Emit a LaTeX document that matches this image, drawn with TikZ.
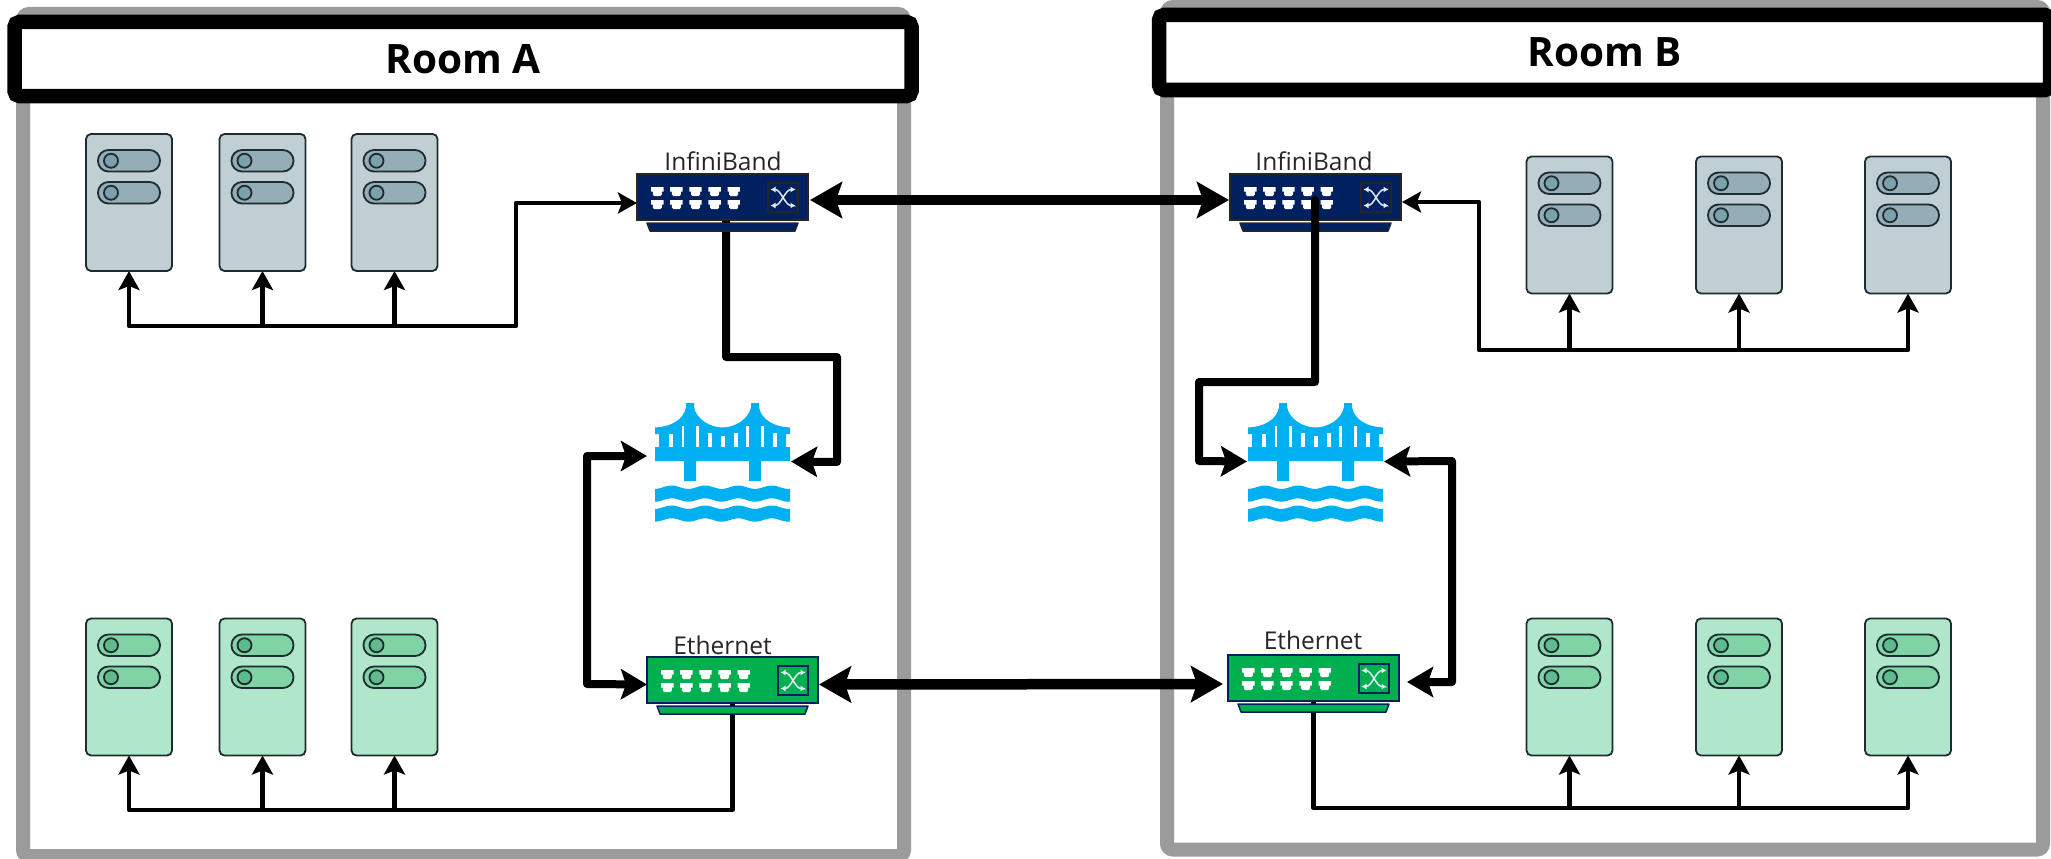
\documentclass[tikz,border=0pt]{standalone}
\usepackage{fontspec}
\setmainfont{Open Sans}
\usetikzlibrary{arrows.meta,calc}
\pgfdeclarelayer{bg}
\pgfdeclarelayer{back}
\pgfsetlayers{bg,back,main}
\definecolor{framegray}{HTML}{9B9B9B}
\definecolor{ibblue}{HTML}{002060}
\definecolor{ethgreen}{HTML}{00B050}
\definecolor{bridgeblue}{HTML}{00B0F0}
\definecolor{srvedge}{HTML}{1E2B30}
\definecolor{graybody}{HTML}{BFCFD4}
\definecolor{graypill}{HTML}{94ADB6}
\definecolor{grayknob}{HTML}{7BA2AC}
\definecolor{greenbody}{HTML}{B0E6CA}
\definecolor{greenpill}{HTML}{7FD3A4}
\definecolor{greenknob}{HTML}{5FBB8C}
\tikzset{
  thintip/.tip={Stealth[length=19pt,width=21pt,inset=4pt]},
  midtip/.tip={Stealth[length=26pt,width=30pt,inset=5pt]},
  bigtip/.tip={Stealth[length=32pt,width=36pt,inset=6pt]},
  thinlink/.style={line width=4.2pt,line join=round,draw=black},
  midlink/.style={line width=8pt,line join=round,draw=black},
  biglink/.style={line width=10.5pt,line join=round,draw=black},
  roomframe/.style={draw=framegray,line width=14pt,rounded corners=6pt,inner sep=0pt,outer sep=0pt},
  roomhead/.style={draw=black,fill=white,line width=14.5pt,rounded corners=5pt,inner sep=0pt,outer sep=0pt,font=\bfseries\fontsize{40.5}{40.5}\selectfont},
  swlabel/.style={anchor=base,inner sep=0pt,text=black!85,font=\fontsize{24.5}{24.5}\selectfont},
  srvbody/.style={rectangle,rounded corners=5pt,line width=1.8pt,draw=srvedge,minimum width=86pt,minimum height=137pt,inner sep=0pt,outer sep=0pt},
  srvpart/.style={line width=1.8pt,draw=srvedge},
  swbody/.style={rectangle,line width=1.5pt,minimum width=171pt,minimum height=46pt,inner sep=0pt,outer sep=0pt},
  ghost/.style={rectangle,minimum width=135pt,minimum height=117pt,inner sep=0pt,outer sep=0pt}
}
% server: name, centre x, centre y, body, pill, knob
\newcommand{\srvbox}[6]{%
  \node[srvbody,fill=#4] (#1) at (#2,#3) {};
  \begin{scope}[shift={(#2-43,#3-68.5)}]
    \foreach \ty in {16,48} {
      \draw[srvpart,fill=#5,rounded corners=10.5pt] (12,\ty) rectangle (74,\ty+21.5);
      \draw[srvpart,fill=#6] (25,\ty+10.75) circle (7pt);
    }
  \end{scope}
}
% switch: name, left x, top y, fill, edge
\newcommand{\swbox}[5]{%
  \node[swbody,fill=#4,draw=#5] (#1) at (#2+85.5,#3+23) {};
  \begin{scope}[shift={(#2,#3)}]
    \draw[line width=1.5pt,draw=#5,fill=#4,line join=round] (10,49) -- (161,49) -- (158,57) -- (13,57) -- cycle;
    \foreach \px in {0,...,4} \foreach \py in {17.5,30.5} {
      \fill[white,shift={(20.3+\px*19.1,\py)}] (-6.2,-4.5) -- (6.2,-4.5) -- (6.2,0) -- (4.5,0) -- (4.5,3) -- (3,4.7) -- (-3,4.7) -- (-4.5,3) -- (-4.5,0) -- (-6.2,0) -- cycle;
    }
    \draw[line width=1.5pt,draw=#5,fill=#4] (131,9) rectangle (161,38);
    \begin{scope}[shift={(146,23.5)}]
      \draw[white!90!ibblue,line width=1.5pt,{Latex[length=5pt,width=6pt]}-{Latex[length=5pt,width=6pt]}] (-12.5,-8) -- (-8,-8) .. controls (-2,-8) and (2,8) .. (8,8) -- (12.5,8);
      \draw[white!90!ibblue,line width=1.5pt,{Latex[length=5pt,width=6pt]}-{Latex[length=5pt,width=6pt]}] (-12.5,8) -- (-8,8) .. controls (-2,8) and (2,-8) .. (8,-8) -- (12.5,-8);
    \end{scope}
  \end{scope}
}
% bridge: name, left x, top y
\newcommand{\brgicon}[3]{%
  \node[ghost] (#1) at (#2+67.5,#3+58.5) {};
  \begin{scope}[shift={(#2,#3)}]
    \fill[bridgeblue] (0,24.5) .. controls (15,24) and (29,17) .. (31,4) -- (31,0) -- (39,0) -- (39,4)
      .. controls (41,16) and (55,24.5) .. (67.5,24.5) .. controls (80,24.5) and (94,16) .. (96,4)
      -- (96,0) -- (104,0) -- (104,4) .. controls (106,17) and (120,24) .. (135,24.5)
      -- (135,31) -- (131,31) -- (131,44) -- (135,44) -- (135,58) -- (106,58) -- (106,78) -- (94,78) -- (94,58)
      -- (41,58) -- (41,78) -- (29,78) -- (29,58) -- (0,58) -- (0,44) -- (4,44) -- (4,31) -- (0,31) -- cycle;
    \foreach \sa/\sb/\st in {14/17.5/31,27.3/28.7/23,41.3/43.7/23,53/56.5/30,65.5/69.5/33,78.5/82.5/30,91.3/93.7/23,106.3/108.7/23,117.5/121.5/30}
      \fill[white] (\sa,\st) rectangle (\sb,44);
    \foreach \dy in {0,20}
      \fill[bridgeblue] plot[domain=0:135,samples=70,variable=\t] (\t,{84.2+\dy+1.7*cos(\t*10.8)})
        -- plot[domain=135:0,samples=70,variable=\t] (\t,{97+\dy+1.7*cos(\t*10.8)}) -- cycle;
  \end{scope}
}
\begin{document}
\begin{tikzpicture}[x=1pt,y=-1pt]
\path[use as bounding box,clip] (0,0) rectangle (2051,859);
\begin{pgfonlayer}{bg}
\fill[white] (0,0) rectangle (2051,859);
\node[roomframe,minimum width=881pt,minimum height=842pt] (frameA) at (463.5,435) {};
\node[roomframe,minimum width=876pt,minimum height=842.5pt] (frameB) at (1605,428.25) {};
\node[roomhead,minimum width=897pt,minimum height=74pt] (headA) at (463,59) {Room A};
\node[roomhead,minimum width=891pt,minimum height=75pt] (headB) at (1604.5,52.5) {Room B};
\end{pgfonlayer}

% servers
\srvbox{sa1}{129}{202.5}{graybody}{graypill}{grayknob}
\srvbox{sa2}{262.5}{202.5}{graybody}{graypill}{grayknob}
\srvbox{sa3}{394.5}{202.5}{graybody}{graypill}{grayknob}
\srvbox{sa4}{129}{687}{greenbody}{greenpill}{greenknob}
\srvbox{sa5}{262.5}{687}{greenbody}{greenpill}{greenknob}
\srvbox{sa6}{394.5}{687}{greenbody}{greenpill}{greenknob}
\srvbox{sb1}{1569.5}{225}{graybody}{graypill}{grayknob}
\srvbox{sb2}{1739}{225}{graybody}{graypill}{grayknob}
\srvbox{sb3}{1908}{225}{graybody}{graypill}{grayknob}
\srvbox{sb4}{1569.5}{687}{greenbody}{greenpill}{greenknob}
\srvbox{sb5}{1739}{687}{greenbody}{greenpill}{greenknob}
\srvbox{sb6}{1908}{687}{greenbody}{greenpill}{greenknob}

\coordinate (busA) at (0,326);
\coordinate (busC) at (0,810);
\coordinate (busB) at (0,350);
\coordinate (busD) at (0,808);

\swbox{ibA}{637}{174}{ibblue}{black!85}
\swbox{ibB}{1230}{174}{ibblue}{black!85}
\swbox{ethA}{647}{657}{ethgreen}{ibblue}
\swbox{ethB}{1228}{655}{ethgreen}{ibblue}
\brgicon{brA}{655}{403}
\brgicon{brB}{1248}{403}

\node[swlabel] (lblIBA) at (723,170.5) {InfiniBand};
\node[swlabel] (lblIBB) at (1314,170.5) {InfiniBand};
\node[swlabel] (lblEA) at (722.5,654) {Ethernet};
\node[swlabel] (lblEB) at (1313,649) {Ethernet};

\begin{pgfonlayer}{back}
  \coordinate (upA) at (516,326);
  \coordinate (upAt) at (516,203);
  \draw[thinlink,{thintip}-{thintip}] (sa1.south) -- (sa1.south |- busA) -- (upA) -- (upAt) -- ([yshift=-6pt]ibA.west);
  \draw[thinlink,-{thintip}] (sa2.south |- busA) -- (sa2.south);
  \draw[thinlink,-{thintip}] (sa3.south |- busA) -- (sa3.south);

  \draw[thinlink,-{thintip}] (ethA.south) -- (ethA.south |- busC) -- (sa4.south |- busC) -- (sa4.south);
  \draw[thinlink,-{thintip}] (sa5.south |- busC) -- (sa5.south);
  \draw[thinlink,-{thintip}] (sa6.south |- busC) -- (sa6.south);

  \coordinate (upB) at (1479,350);
  \coordinate (upBt) at (1479,202);
  \draw[thinlink,{thintip}-{thintip}] (sb3.south) -- (sb3.south |- busB) -- (upB) -- (upBt) -- ([xshift=1pt,yshift=-5pt]ibB.east);
  \draw[thinlink,-{thintip}] (sb1.south |- busB) -- (sb1.south);
  \draw[thinlink,-{thintip}] (sb2.south |- busB) -- (sb2.south);

  \draw[thinlink,-{thintip}] (ethB.south) -- (ethB.south |- busD) -- (sb6.south |- busD) -- (sb6.south);
  \draw[thinlink,-{thintip}] (sb4.south |- busD) -- (sb4.south);
  \draw[thinlink,-{thintip}] (sb5.south |- busD) -- (sb5.south);

  \coordinate (ia1) at (726,357);
  \coordinate (ia2) at (837,357);
  \coordinate (ia3) at (837,462);
  \draw[midlink,-{midtip}] ([xshift=3.5pt]ibA.south) -- (ia1) -- (ia2) -- (ia3) -- ([xshift=1pt]brA.east);
\end{pgfonlayer}

% heavy links above the switches
\draw[biglink,{bigtip}-{bigtip}] ([xshift=2pt,yshift=-3pt]ibA.east) -- ([xshift=-1pt,yshift=-3pt]ibB.west);
\draw[biglink,{bigtip}-{bigtip}] ([xshift=1pt,yshift=-4.5pt]ethA.east) -- ([xshift=-5pt,yshift=-6pt]ethB.west);

\coordinate (ea1) at (587,456);
\coordinate (ea2) at (587,684);
\draw[midlink,{midtip}-{midtip}] ([xshift=-8pt,yshift=5.5pt]brA.west) -- (ea1) -- (ea2) -- ([yshift=-4.5pt]ethA.west);

\coordinate (ib1) at (1315,382);
\coordinate (ib2) at (1199,382);
\coordinate (ib3) at (1199,461);
\draw[midlink,line cap=round,-{midtip}] ([xshift=-0.5pt,yshift=-3pt]ibB.center) -- (ib1) -- (ib2) -- (ib3) -- ([xshift=-1pt]brB.west);

\coordinate (eb1) at (1452,461);
\coordinate (eb2) at (1452,682);
\draw[midlink,{midtip}-{midtip}] ([xshift=1pt]brB.east) -- (eb1) -- (eb2) -- ([xshift=8pt,yshift=-4pt]ethB.east);
\end{tikzpicture}
\end{document}
